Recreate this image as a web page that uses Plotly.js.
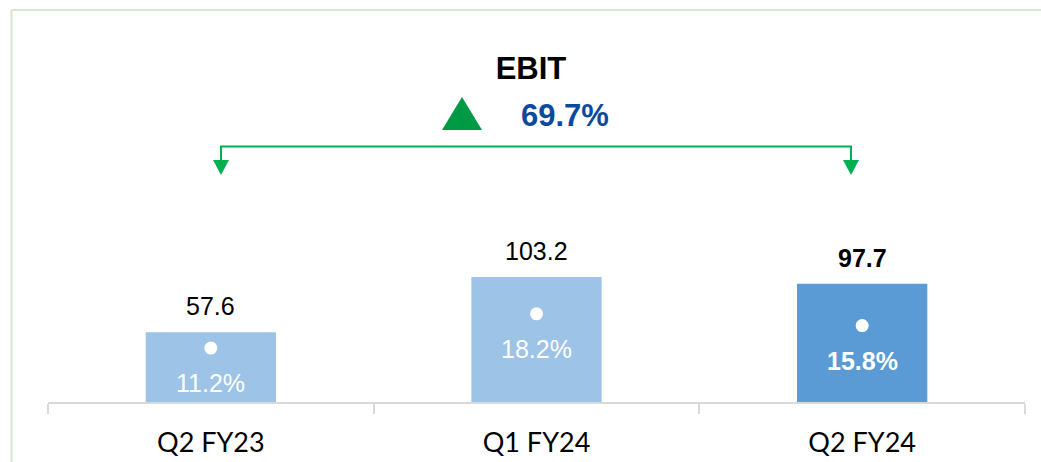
<!DOCTYPE html>
<html>
<head>
<meta charset="utf-8">
<script src="https://cdn.plot.ly/plotly-3.0.1.min.js"></script>
<style>html,body{margin:0;padding:0;background:#fff;}#chart{width:1041px;height:462px;}</style>
</head>
<body>
<div id="chart"></div>
<script>
// ---- data ----
const categories = ["Q2 FY23", "Q1 FY24", "Q2 FY24"];
const ebitValues = [57.6, 103.2, 97.7];
const marginValues = [11.2, 18.2, 15.8];
const barColors = ["#9DC3E6", "#9DC3E6", "#5B9BD5"];
const boldFlags = [false, false, true];
const chartTitle = "EBIT";
const growthLabel = "69.7%";

// ---- layout helpers (pixel -> paper) ----
const W = 1041, H = 462;
const M = {l: 48, r: 16, t: 10, b: 60};
const PW = W - M.l - M.r, PH = H - M.t - M.b;
const px = x => (x - M.l) / PW;
const py = y => (M.t + PH - y) / PH;

const FONT = "Liberation Sans, Arial, sans-serif";

const bars = {
  type: "bar",
  x: categories,
  y: ebitValues,
  width: 0.4,
  marker: {color: barColors},
  hoverinfo: "skip",
  yaxis: "y"
};
const dots = {
  type: "scatter",
  mode: "markers",
  x: categories,
  y: marginValues,
  marker: {color: "#FFFFFF", size: 13},
  hoverinfo: "skip",
  yaxis: "y2"
};

const annotations = [];
categories.forEach((c, i) => {
  const b = boldFlags[i];
  annotations.push({
    x: c, y: ebitValues[i], xref: "x", yref: "y",
    text: b ? "<b>" + ebitValues[i].toFixed(1) + "</b>" : ebitValues[i].toFixed(1),
    showarrow: false, yanchor: "middle", yshift: 26,
    font: {family: FONT, size: 25, color: "#000000"}
  });
  annotations.push({
    x: c, y: marginValues[i], xref: "x", yref: "y2",
    text: b ? "<b>" + marginValues[i].toFixed(1) + "%</b>" : marginValues[i].toFixed(1) + "%",
    showarrow: false, yanchor: "middle", yshift: -35,
    font: {family: FONT, size: 25, color: "#FFFFFF"}
  });
});
annotations.push({
  x: px(565), y: py(115), xref: "paper", yref: "paper",
  text: "<b>" + growthLabel + "</b>", showarrow: false,
  xanchor: "center", yanchor: "middle",
  font: {family: FONT, size: 31, color: "#0B4A9E"}
});

const green = "#00B050";
const shapes = [
  // frame lines
  {type: "line", xref: "paper", yref: "paper", x0: px(11), x1: px(1041), y0: py(10), y1: py(10), line: {color: "#D5E8CF", width: 2}},
  {type: "line", xref: "paper", yref: "paper", x0: px(11.5), x1: px(11.5), y0: py(10), y1: py(462), line: {color: "#D5E8CF", width: 2}},
  // up triangle
  {type: "path", xref: "paper", yref: "paper",
   path: `M ${px(442)} ${py(130)} L ${px(482)} ${py(130)} L ${px(462)} ${py(97)} Z`,
   fillcolor: "#009A44", line: {width: 0}},
  // bracket arrow
  {type: "path", xref: "paper", yref: "paper",
   path: `M ${px(221)} ${py(161)} L ${px(221)} ${py(146.5)} L ${px(851)} ${py(146.5)} L ${px(851)} ${py(161)}`,
   line: {color: green, width: 2}},
  {type: "path", xref: "paper", yref: "paper",
   path: `M ${px(213)} ${py(160)} L ${px(229)} ${py(160)} L ${px(221)} ${py(175)} Z`,
   fillcolor: green, line: {width: 0}},
  {type: "path", xref: "paper", yref: "paper",
   path: `M ${px(843)} ${py(160)} L ${px(859)} ${py(160)} L ${px(851)} ${py(175)} Z`,
   fillcolor: green, line: {width: 0}}
];

const layout = {
  width: W, height: H,
  margin: M,
  paper_bgcolor: "#FFFFFF",
  plot_bgcolor: "#FFFFFF",
  showlegend: false,
  title: {
    text: "<b>" + chartTitle + "</b>",
    x: 531 / W, xanchor: "center", xref: "container",
    y: 1 - 68 / H, yanchor: "middle", yref: "container",
    font: {family: FONT, size: 31, color: "#000000"}
  },
  xaxis: {
    type: "category",
    range: [-0.5, 2.5],
    showline: true, linecolor: "#D9D9D9", linewidth: 2,
    ticks: "outside", tickson: "boundaries", ticklen: 10, tickcolor: "#D9D9D9", tickwidth: 2,
    showgrid: false, zeroline: false,
    tickfont: {family: "Lato, Carlito, sans-serif", size: 27, color: "#000000"},
    ticklabelstandoff: 16
  },
  yaxis: {
    range: [0, PH / 1.211],
    visible: false, showgrid: false, zeroline: false, fixedrange: true
  },
  yaxis2: {
    range: [0.2, 80.2],
    overlaying: "y", side: "right",
    visible: false, showgrid: false, zeroline: false
  },
  annotations: annotations,
  shapes: shapes
};

Plotly.newPlot("chart", [bars, dots], layout, {displayModeBar: false, staticPlot: true});
</script>
</body>
</html>
